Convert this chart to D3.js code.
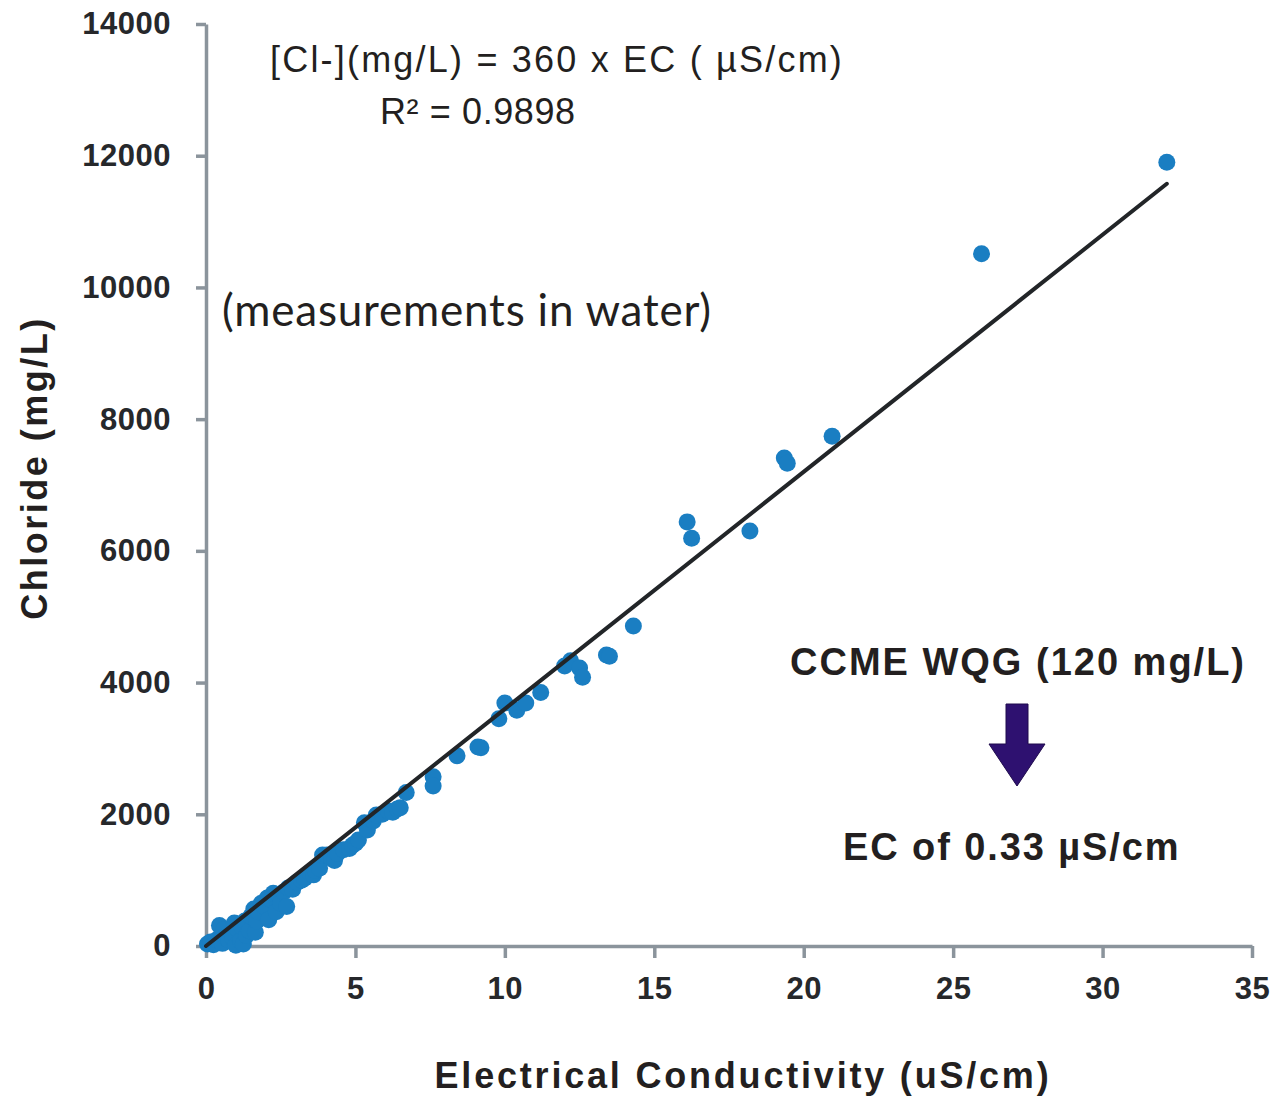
<!DOCTYPE html>
<html>
<head>
<meta charset="utf-8">
<script src="https://cdn.jsdelivr.net/npm/d3@7"></script>
<style>
  body { margin: 0; background: #fff; }
</style>
</head>
<body>
<div id="my_dataviz"></div>
<script>
// data
var ecValues = [0.05, 0.15, 0.25, 0.35, 0.45, 0.55, 0.6, 0.65, 0.75, 0.85, 0.9, 0.95, 1.0, 1.05, 1.15, 1.2, 1.25, 1.3, 1.35, 1.45, 1.5,
  1.6, 1.65, 1.7, 1.75, 1.85, 1.95, 2.05, 2.1, 2.2, 2.25, 2.35, 2.45, 2.5, 2.6, 2.7, 2.75, 2.9, 2.9, 3.05, 3.2, 3.3, 3.5, 3.6, 3.65, 3.8, 3.9,
  4.05, 4.2, 4.3, 4.4, 4.6, 4.8, 4.9, 5.0, 5.1, 5.3, 5.4, 5.6, 5.7, 5.9, 6.1, 6.25, 6.4, 6.5, 6.7, 7.6, 7.6, 8.4, 9.1, 9.2, 9.8, 10.0, 10.4,
  10.7, 11.2, 12.0, 12.2, 12.5, 12.6, 13.4, 13.5, 14.3, 16.1, 16.25, 18.2, 19.35, 19.45, 20.95, 25.95, 32.15];
var chlorideValues = [30, 60, 20, 90, 310, 40, 250, 130, 90, 200, 120, 350, 10, 260, 80, 300, 30, 380, 160, 230, 450,
  560, 210, 380, 520, 650, 600, 730, 400, 700, 800, 520, 760, 650, 820, 600, 880, 900, 860, 970, 1000, 1030, 1100, 1080, 1150, 1180, 1380,
  1380, 1330, 1300, 1410, 1460, 1480, 1530, 1560, 1610, 1870, 1760, 1900, 1990, 2000, 2050, 2030, 2080, 2100, 2330, 2570, 2430, 2890, 3020, 3010, 3450, 3690, 3580,
  3690, 3850, 4250, 4330, 4220, 4080, 4420, 4400, 4860, 6440, 6190, 6300, 7410, 7330, 7740, 10510, 11900];
var xTicks = [0, 5, 10, 15, 20, 25, 30, 35];
var yTicks = [0, 2000, 4000, 6000, 8000, 10000, 12000, 14000];
var slope = 360;           // trendline [Cl-] = 360 x EC
var trendRange = [0, 32.15];

var margin = {top: 24, right: 23, bottom: 152, left: 206},
    width = 1275 - margin.left - margin.right,
    height = 1098 - margin.top - margin.bottom;

var svg = d3.select("#my_dataviz")
  .append("svg")
    .attr("width", 1275)
    .attr("height", 1098)
    .style("font-family", "'Liberation Sans', Arial, sans-serif");

var g = svg.append("g")
    .attr("transform", "translate(" + margin.left + "," + margin.top + ")");

var x = d3.scaleLinear().domain([0, 35]).range([0, width]);
var y = d3.scaleLinear().domain([0, 14000]).range([height, 0]);

var axisColor = "#8b949c";

// axes
var xAxis = g.append("g")
    .attr("transform", "translate(0," + height + ")")
    .call(d3.axisBottom(x).tickValues(xTicks).tickSize(12).tickSizeOuter(0).tickPadding(19).tickFormat(d3.format("d")));
var yAxis = g.append("g")
    .call(d3.axisLeft(y).tickValues(yTicks).tickSize(10).tickSizeOuter(0).tickPadding(25).tickFormat(d3.format("d")));

[xAxis, yAxis].forEach(function(a) {
  a.select(".domain").attr("stroke", axisColor).attr("stroke-width", 3.5);
  a.selectAll(".tick line").attr("stroke", axisColor).attr("stroke-width", 3.5);
  a.selectAll(".tick text")
    .attr("fill", "#26282b")
    .style("font-family", "'Liberation Sans', Arial, sans-serif")
    .style("font-weight", "bold")
    .style("font-size", "31px")
    .style("letter-spacing", "0.5px");
});

// points
var points = ecValues.map(function(d, i) { return {ec: d, cl: chlorideValues[i]}; });
g.append("g")
  .selectAll("circle")
  .data(points)
  .enter()
  .append("circle")
    .attr("cx", function(d) { return x(d.ec); })
    .attr("cy", function(d) { return y(d.cl); })
    .attr("r", 8.5)
    .attr("fill", "#1a7ec2");

// trendline
g.append("line")
    .attr("x1", x(trendRange[0]))
    .attr("y1", y(slope * trendRange[0]))
    .attr("x2", x(trendRange[1]))
    .attr("y2", y(slope * trendRange[1]))
    .attr("stroke", "#222528")
    .attr("stroke-width", 4)
    .attr("stroke-linecap", "round");

// texts
function addText(txt, px, py, size, weight, spacing, anchor, family) {
  return svg.append("text")
    .attr("x", px)
    .attr("y", py)
    .attr("text-anchor", anchor || "start")
    .style("font-size", size + "px")
    .style("font-weight", weight)
    .style("letter-spacing", spacing + "px")
    .style("font-family", family || "'Liberation Sans', Arial, sans-serif")
    .attr("fill", "#231f20")
    .text(txt);
}

addText("[Cl-](mg/L) = 360 x EC ( µS/cm)", 270, 72, 36, "normal", 2.2);
addText("R² = 0.9898", 380, 124, 36, "normal", 0.6);
addText("(measurements in water)", 222, 326, 44, "normal", 0.8, "start", "Lato, 'Open Sans', sans-serif");
addText("CCME WQG (120 mg/L)", 790, 675, 38, "bold", 2);
addText("EC of 0.33 µS/cm", 843, 860, 38, "bold", 1.9);
addText("Electrical Conductivity (uS/cm)", 743, 1088, 36, "bold", 2.8, "middle");
addText("Chloride (mg/L)", 0, 0, 36, "bold", 2.5, "middle")
    .attr("transform", "translate(47,468) rotate(-90)");

// arrow
var arrowX = 1017;
svg.append("path")
    .attr("d", "M" + (arrowX - 11) + ",704 L" + (arrowX + 11) + ",704 L" + (arrowX + 11) + ",744 L" + (arrowX + 28) + ",744 L" +
      arrowX + ",786 L" + (arrowX - 28) + ",744 L" + (arrowX - 11) + ",744 Z")
    .attr("fill", "#2e1170")
    .attr("stroke", "#1e0a4c")
    .attr("stroke-width", 1);
</script>
</body>
</html>
